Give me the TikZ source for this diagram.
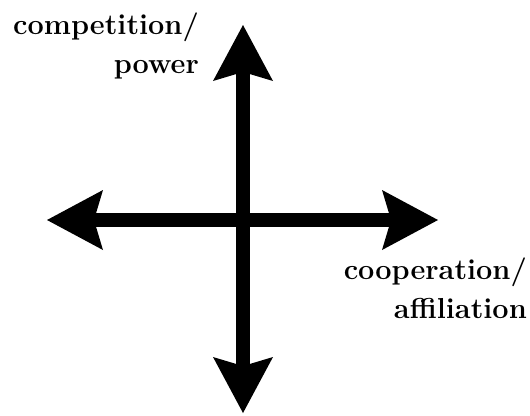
\documentclass[tikz,border=0pt]{standalone}
\usepackage{tikz}
\usetikzlibrary{arrows.meta, positioning}

\begin{document}
\begin{tikzpicture}[
    x=1bp, y=-1bp,
    axis/.style={line width=14bp,
                 {Stealth[length=56bp, width=60bp, inset=9bp, line width=0pt]}-{Stealth[length=56bp, width=60bp, inset=9bp, line width=0pt]}},
    lbl/.style={font=\fontsize{29}{39}\selectfont\bfseries, align=right,
                inner sep=0pt, anchor=north east},
  ]
  \useasboundingbox (0,0) rectangle (530,415);
  %% Axis end points
  \coordinate (top) at (243,25);
  \coordinate (bottom) at (243,413);
  \coordinate (left) at (47,220);
  \coordinate (right) at (438,220);
  %% Labels
  \node[lbl] (power) at (199,13) {competition/\\power};
  \node[lbl] (affil) at (527,258) {cooperation/\\affiliation};
  %% Arrows
  \draw[axis] (left) -- (right);
  \draw[axis] (bottom) -- (top);
\end{tikzpicture}
\end{document}
